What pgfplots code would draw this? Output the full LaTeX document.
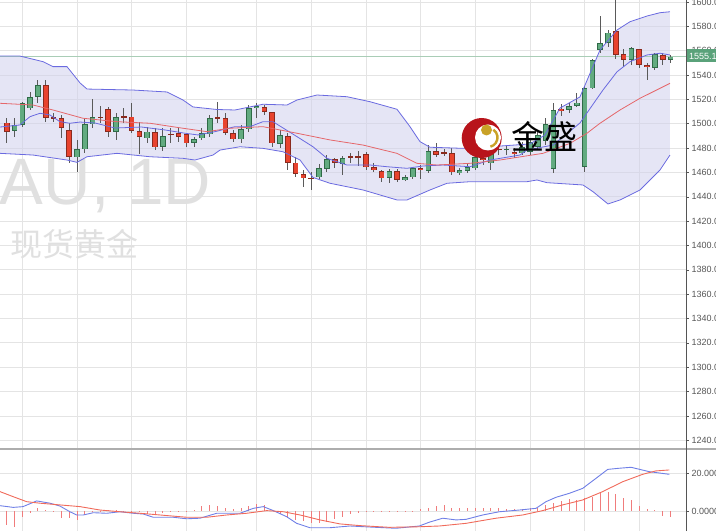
\documentclass[border=0pt]{standalone}
\usepackage{fontspec}
\setmainfont{Liberation Sans}
\newfontfamily\cjk{Noto Sans CJK SC}
\usepackage{pgfplots}
\pgfplotsset{compat=1.18}
\usepgfplotslibrary{fillbetween}
\usepackage{pgfplotstable}

\definecolor{gridc}{HTML}{E4E4E4}
\definecolor{bandline}{HTML}{6A6AE0}
\definecolor{bandfill}{HTML}{D0D0EC}
\definecolor{maRed}{HTML}{E5676B}
\definecolor{upFill}{HTML}{62AB80}
\definecolor{upEdge}{HTML}{2F6B47}
\definecolor{dnFill}{HTML}{E8432E}
\definecolor{dnEdge}{HTML}{8A2A1E}
\definecolor{wick}{HTML}{5A5A5A}
\definecolor{tickc}{HTML}{555555}
\definecolor{wm}{HTML}{E0E0E0}
\definecolor{priceg}{HTML}{5AA27A}
\definecolor{priceline}{HTML}{A9CDB6}
\definecolor{macdblue}{HTML}{6F7FE6}
\definecolor{macdred}{HTML}{F06A5A}
\definecolor{histc}{HTML}{F07C7C}
\definecolor{logored}{HTML}{B8141B}
\definecolor{logogold}{HTML}{C9A227}

% candles: index open high low close
\pgfplotstableread{
i o h l c
1 1494.3 1504.5 1489.4 1499.0
2 1499.0 1518.1 1497.6 1516.8
3 1512.7 1526.3 1511.3 1522.2
4 1522.2 1535.9 1516.8 1531.8
9 1472.4 1486.6 1460.1 1479.3
10 1479.0 1504.5 1475.7 1499.5
11 1499.5 1520.1 1496.3 1505.3
14 1493.5 1508.6 1486.6 1505.3
18 1488.0 1497.6 1483.9 1493.5
20 1481.1 1496.3 1477.9 1489.9
24 1484.4 1489.4 1481.1 1487.2
25 1488.0 1496.3 1486.6 1492.1
26 1491.3 1507.2 1489.4 1504.5
30 1487.2 1499.0 1483.9 1495.4
31 1495.4 1515.4 1493.5 1512.7
32 1512.7 1516.8 1504.5 1514.6
35 1483.4 1494.9 1479.8 1490.7
40 1456.0 1466.9 1454.4 1463.4
41 1462.6 1474.3 1460.6 1471.0
43 1466.9 1473.5 1457.9 1471.6
49 1455.2 1462.6 1451.1 1461.4
51 1453.8 1457.9 1453.2 1456.0
52 1456.0 1464.7 1454.4 1463.4
54 1461.4 1482.5 1459.3 1477.6
58 1459.3 1463.4 1457.9 1462.0
59 1461.4 1467.5 1459.3 1464.7
60 1463.4 1475.7 1462.0 1472.9
62 1467.5 1478.4 1462.0 1476.5
64 1478.6 1482.5 1474.3 1479.2
66 1475.7 1485.0 1474.3 1481.1
67 1477.0 1488.3 1474.3 1485.2
68 1481.0 1493.2 1478.4 1490.8
69 1485.8 1504.7 1482.5 1499.4
70 1462.8 1516.8 1459.5 1511.3
72 1511.3 1517.0 1508.8 1514.6
73 1514.6 1525.0 1514.0 1517.3
74 1464.7 1531.0 1460.6 1529.1
75 1529.1 1552.9 1528.3 1552.4
76 1560.6 1588.5 1557.9 1566.1
77 1566.1 1577.0 1563.3 1574.8
80 1552.4 1563.3 1548.2 1562.0
83 1546.0 1557.9 1544.1 1557.3
85 1552.4 1556.5 1549.6 1555.1
}\uptab

\pgfplotstableread{
i o h l c
0 1500.9 1504.5 1483.9 1493.5
5 1531.8 1535.9 1501.7 1504.5
6 1505.0 1508.6 1501.7 1503.9
7 1504.5 1507.2 1488.0 1496.7
8 1494.9 1500.4 1467.5 1472.9
12 1505.8 1514.6 1500.4 1504.5
13 1511.9 1514.0 1489.4 1493.5
15 1506.1 1512.7 1500.4 1505.0
16 1505.8 1517.3 1492.6 1494.0
17 1494.0 1501.7 1475.1 1488.9
19 1493.0 1496.3 1478.4 1480.6
21 1491.8 1496.3 1483.9 1490.7
22 1492.1 1496.3 1485.2 1489.4
23 1491.3 1492.6 1481.1 1483.9
27 1505.0 1518.1 1500.4 1503.9
28 1504.5 1508.6 1490.8 1492.6
29 1492.6 1494.9 1485.2 1487.2
33 1513.5 1515.4 1507.2 1509.9
34 1509.4 1509.9 1480.6 1483.9
36 1489.9 1492.1 1462.0 1468.0
37 1468.0 1472.9 1456.0 1458.7
38 1458.7 1462.0 1448.3 1455.2
39 1455.7 1460.6 1445.6 1454.6
42 1470.8 1471.6 1463.4 1468.0
44 1472.8 1476.2 1467.5 1472.0
45 1472.8 1477.9 1465.3 1472.0
46 1474.9 1476.5 1462.0 1464.2
47 1464.2 1467.5 1460.6 1462.0
48 1461.2 1462.0 1452.4 1455.2
50 1461.4 1462.6 1452.4 1453.8
53 1463.9 1466.1 1454.4 1462.0
55 1477.6 1483.9 1472.9 1474.3
56 1476.0 1479.0 1473.5 1475.4
57 1475.7 1479.8 1457.9 1460.1
61 1472.0 1476.0 1466.0 1470.0
63 1479.2 1482.5 1474.3 1478.6
65 1477.0 1480.1 1471.9 1475.4
71 1512.5 1516.2 1506.4 1510.5
78 1576.4 1602.0 1553.2 1556.5
79 1557.3 1561.1 1546.9 1552.4
81 1561.1 1561.5 1545.5 1548.2
82 1548.2 1549.6 1535.9 1546.4
84 1556.5 1557.9 1548.2 1552.4
}\dntab

\pgfplotstableread{
x y
-0.86 1555.6
1.70 1555.6
4.65 1551.0
5.93 1546.9
7.72 1546.9
9.39 1533.5
10.28 1528.5
16.17 1527.7
20.52 1526.1
22.57 1519.5
23.85 1513.8
26.93 1511.7
29.23 1511.3
32.81 1516.0
35.89 1515.4
37.17 1519.5
39.73 1523.6
43.57 1522.2
46.52 1518.1
49.97 1511.9
51.64 1497.6
52.92 1485.3
54.20 1480.7
58.43 1479.8
61.88 1481.1
67.00 1483.4
68.92 1490.8
70.84 1512.9
73.40 1522.0
75.97 1560.6
78.15 1577.0
79.81 1583.8
81.99 1588.5
83.65 1591.2
84.93 1592.0
}\upperband

\pgfplotstableread{
x y
-0.86 1475.7
3.37 1474.3
7.72 1470.2
9.00 1468.3
10.28 1472.9
14.12 1475.7
18.35 1472.9
22.57 1471.6
24.11 1470.2
26.42 1474.3
27.32 1478.4
29.87 1481.1
32.81 1479.8
35.38 1477.0
37.56 1470.2
39.22 1455.9
41.40 1451.1
45.63 1445.6
49.97 1437.4
51.25 1437.4
54.20 1445.6
56.38 1451.1
59.32 1452.4
66.62 1452.4
67.90 1453.8
69.18 1451.6
73.79 1449.7
75.07 1444.2
76.99 1434.1
78.53 1437.4
81.09 1445.6
83.65 1462.0
84.93 1474.3
}\lowerband

\pgfplotstableread{
x y
-0.86 1497.3
1.70 1499.0
2.98 1505.8
4.26 1508.6
5.54 1507.2
6.82 1501.7
8.10 1500.4
9.39 1501.4
11.31 1500.6
13.87 1496.5
17.29 1497.3
20.27 1494.9
22.83 1492.2
24.49 1490.8
26.67 1493.5
29.23 1497.6
31.15 1497.6
32.81 1501.7
34.09 1501.7
37.17 1489.4
39.22 1481.1
41.01 1471.6
43.57 1466.1
46.52 1466.1
48.70 1464.7
51.25 1463.4
53.30 1465.3
55.86 1466.1
59.32 1464.7
61.88 1470.2
65.72 1474.3
66.62 1478.4
69.95 1482.5
73.40 1500.6
76.35 1527.7
78.15 1542.7
79.81 1551.0
81.99 1556.5
83.65 1557.9
84.93 1556.5
}\shortma

\pgfplotstableread{
x y
-0.86 1516.8
3.37 1515.4
5.93 1511.3
9.77 1504.5
14.12 1501.7
18.35 1500.4
22.57 1496.3
25.64 1493.5
28.59 1496.3
32.81 1497.6
37.17 1492.2
41.40 1486.7
45.63 1482.5
49.97 1475.7
52.53 1467.5
55.09 1466.1
59.32 1467.5
63.16 1470.2
68.67 1475.7
72.13 1483.9
74.30 1492.2
75.97 1500.4
78.53 1511.3
81.09 1520.9
83.65 1529.1
84.93 1533.2
}\longma

\pgfplotstableread{
x y
-0.86 2.8
0.85 1.9
2.09 2.3
3.84 5.3
5.54 4.1
6.82 2.6
8.10 -0.4
8.96 -2.1
9.81 -2.1
11.09 -0.9
12.80 -1.2
14.51 -0.4
16.21 -1.2
17.49 -1.6
18.77 -3.3
21.33 -3.3
23.05 -4.1
24.75 -3.8
26.89 -1.2
29.87 -1.2
31.58 1.4
32.86 2.3
34.14 0.2
35.85 -3.0
37.13 -6.5
38.83 -8.8
41.40 -8.8
43.96 -7.9
47.29 -8.6
49.85 -9.1
52.83 -7.9
54.11 -5.9
55.83 -3.8
57.53 -4.7
58.81 -4.4
60.95 -2.1
63.07 -0.4
65.63 0.5
67.77 1.4
69.05 4.9
70.33 7.2
72.04 9.3
73.75 11.9
75.46 17.2
76.96 21.9
78.44 22.5
79.94 23.0
82.28 20.7
84.84 19.3
}\macdline

\pgfplotstableread{
x y
-0.86 10.2
0.85 7.5
2.56 4.9
4.26 4.1
6.82 3.2
9.39 2.3
11.95 0.5
14.51 -0.4
17.07 -1.2
19.63 -2.1
23.05 -3.3
25.61 -3.3
28.17 -2.1
30.73 -1.2
33.29 0.2
35.42 -0.4
37.56 -2.1
40.12 -4.7
42.68 -6.8
45.24 -7.7
48.99 -8.6
52.83 -8.3
55.39 -7.9
58.81 -6.5
62.65 -3.8
66.07 -2.1
68.63 0.2
71.19 3.2
73.75 5.8
76.31 10.2
78.87 15.4
81.43 19.3
83.13 21.1
84.84 21.6
}\signalline

\pgfplotsset{
  candle/.style 2 args={draw=none, mark=none, forget plot,
    error bars/.cd, y dir=both, y explicit, error mark=none,
    error bar style={draw=#2, line width=#1}},
}

\begin{document}
\begin{tikzpicture}[x=1pt,y=1pt]
% watermark
\node[anchor=base west, inner sep=0, text=wm] at (-44,326) {\fontsize{65.6}{70}\selectfont XAU, 1D};
\node[anchor=west, inner sep=0, text=wm] at (10,287) {\cjk\fontsize{32}{34}\selectfont 现货黄金};

\begin{axis}[
  at={(0pt,83pt)}, anchor=south west,
  width=686pt, height=448pt, scale only axis,
  xmin=-0.858, xmax=86.98, ymin=1233.67, ymax=1601.64,
  axis line style={draw=none},
  xtick={2,9,16,23,32,39,46,53,60,67,74,81}, xticklabels={},
  x tick style={draw=none},
  ytick={1240,1260,...,1600},
  ytick pos=right, yticklabel pos=right,
  tick align=outside, major tick length=3pt,
  y tick style={tickc, line width=0.5pt},
  grid=major, major grid style={gridc, line width=0.8pt},
  yticklabel style={font=\fontsize{9}{10}\selectfont, text=tickc, anchor=west, inner sep=2.5pt,
    /pgf/number format/fixed, /pgf/number format/fixed zerofill,
    /pgf/number format/precision=2, /pgf/number format/1000 sep={},
    /pgf/number format/assume math mode=true},
]
\addplot[draw=none, name path=ub, forget plot] table[x=x,y=y] {\upperband};
\addplot[draw=none, name path=lb, forget plot] table[x=x,y=y] {\lowerband};
\addplot[bandfill, fill opacity=0.55, forget plot] fill between[of=ub and lb];
\draw[priceline, line width=1.2pt] (axis cs:-0.858,1555.1) -- (axis cs:86.98,1555.1);

% wicks
\addplot[candle={0.9pt}{wick}]
  table[x=i, y expr={(\thisrow{h}+\thisrow{l})/2}, y error expr={(\thisrow{h}-\thisrow{l})/2}] {\uptab};
\addplot[candle={0.9pt}{wick}]
  table[x=i, y expr={(\thisrow{h}+\thisrow{l})/2}, y error expr={(\thisrow{h}-\thisrow{l})/2}] {\dntab};
% bodies
\addplot[candle={5.6pt}{upEdge}]
  table[x=i, y expr={(\thisrow{o}+\thisrow{c})/2}, y error expr={max(abs(\thisrow{o}-\thisrow{c})/2,0.7)}] {\uptab};
\addplot[candle={4.0pt}{upFill}]
  table[x=i, y expr={(\thisrow{o}+\thisrow{c})/2}, y error expr={max(abs(\thisrow{o}-\thisrow{c})/2-0.65,0)}] {\uptab};
\addplot[candle={5.6pt}{dnEdge}]
  table[x=i, y expr={(\thisrow{o}+\thisrow{c})/2}, y error expr={max(abs(\thisrow{o}-\thisrow{c})/2,0.7)}] {\dntab};
\addplot[candle={4.0pt}{dnFill}]
  table[x=i, y expr={(\thisrow{o}+\thisrow{c})/2}, y error expr={max(abs(\thisrow{o}-\thisrow{c})/2-0.65,0)}] {\dntab};

\addplot[bandline, line width=0.8pt] table[x=x,y=y] {\upperband};
\addplot[bandline, line width=0.8pt] table[x=x,y=y] {\lowerband};
\addplot[bandline, line width=0.8pt] table[x=x,y=y] {\shortma};
\addplot[maRed, line width=0.8pt] table[x=x,y=y] {\longma};
\end{axis}

\begin{axis}[
  at={(0pt,0pt)}, anchor=south west,
  width=686pt, height=81pt, scale only axis,
  xmin=-0.858, xmax=86.98, ymin=-10.53, ymax=32.1,
  axis line style={draw=none},
  xtick={2,9,16,23,32,39,46,53,60,67,74,81}, xticklabels={},
  x tick style={draw=none},
  ytick={0,20},
  ytick pos=right, yticklabel pos=right,
  tick align=outside, major tick length=3pt,
  y tick style={tickc, line width=0.5pt},
  grid=major, major grid style={gridc, line width=0.8pt},
  yticklabel style={font=\fontsize{9}{10}\selectfont, text=tickc, anchor=west, inner sep=2.5pt,
    /pgf/number format/fixed, /pgf/number format/fixed zerofill,
    /pgf/number format/precision=4,
    /pgf/number format/assume math mode=true},
]
\addplot[ycomb, histc, line width=0.9pt] coordinates {
(0,-7.4) (1,-8.3) (2,-3.0) (3,-1.0) (4,1.4) (5,0.5) (6,-0.5) (7,-3.7) (8,-3.8) (9,-4.7)
(10,-2.1) (11,0.2) (12,-0.5) (13,0.5) (14,0.3) (15,0.2) (16,-0.3) (17,-0.5) (18,-1.5) (19,-1.5)
(20,-1.0) (21,-0.5) (22,-0.3) (23,0.1) (24,0.5) (25,2.5) (26,3.2) (27,2.6) (28,1.5) (29,1.0)
(30,1.5) (31,2.6) (32,3.7) (33,3.2) (34,0.5) (35,-1.5) (36,-3.5) (37,-4.9) (38,-5.4) (39,-6.2)
(40,-6.2) (41,-5.8) (42,-4.2) (43,-3.0) (44,-1.5) (45,-0.8) (46,-0.5) (47,-0.3) (48,-0.5) (49,-0.3)
(50,-0.5) (51,0.1) (52,0.2) (53,0.8) (54,1.4) (55,2.6) (56,3.2) (57,1.7) (58,1.5) (59,1.5)
(60,1.5) (61,1.5) (62,1.5) (63,1.5) (64,1.3) (65,1.2) (66,1.3) (67,1.4) (68,1.5) (69,3.2)
(70,4.4) (71,5.3) (72,6.2) (73,5.8) (74,6.7) (75,7.5) (76,9.3) (77,10.1) (78,8.8) (79,6.7)
(80,5.8) (81,2.8) (82,0.9) (83,0.3) (84,-2.6) (85,-3.0)
};
\addplot[macdblue, line width=0.9pt] table[x=x,y=y] {\macdline};
\addplot[macdred, line width=0.9pt] table[x=x,y=y] {\signalline};
\end{axis}

% separator and right axis line
\draw[color=black!32, line width=2pt] (0,82) -- (716,82);
\draw[tickc, line width=0.7pt] (686,0) -- (686,531);

% current price tag
\fill[priceg] (686.5,468.5) rectangle (720,481.5);
\node[anchor=west, inner sep=0, text=white] at (689,475) {\fontsize{9}{10}\selectfont 1555.10};

% logo
\fill[logored] (481.7,393) circle (20);
\fill[white] (488,393.5) circle (13);
\fill[logogold] (486.5,401) circle (5.5);
\draw[logogold, line width=2.4pt] (488,393.5) ++(55:9.5) arc (55:-75:9.5);
\node[anchor=west, inner sep=0] at (511,395) {\cjk\fontsize{33}{35}\selectfont 金盛};

\pgfresetboundingbox
\useasboundingbox (0,0) rectangle (716,531);
\end{tikzpicture}
\end{document}
